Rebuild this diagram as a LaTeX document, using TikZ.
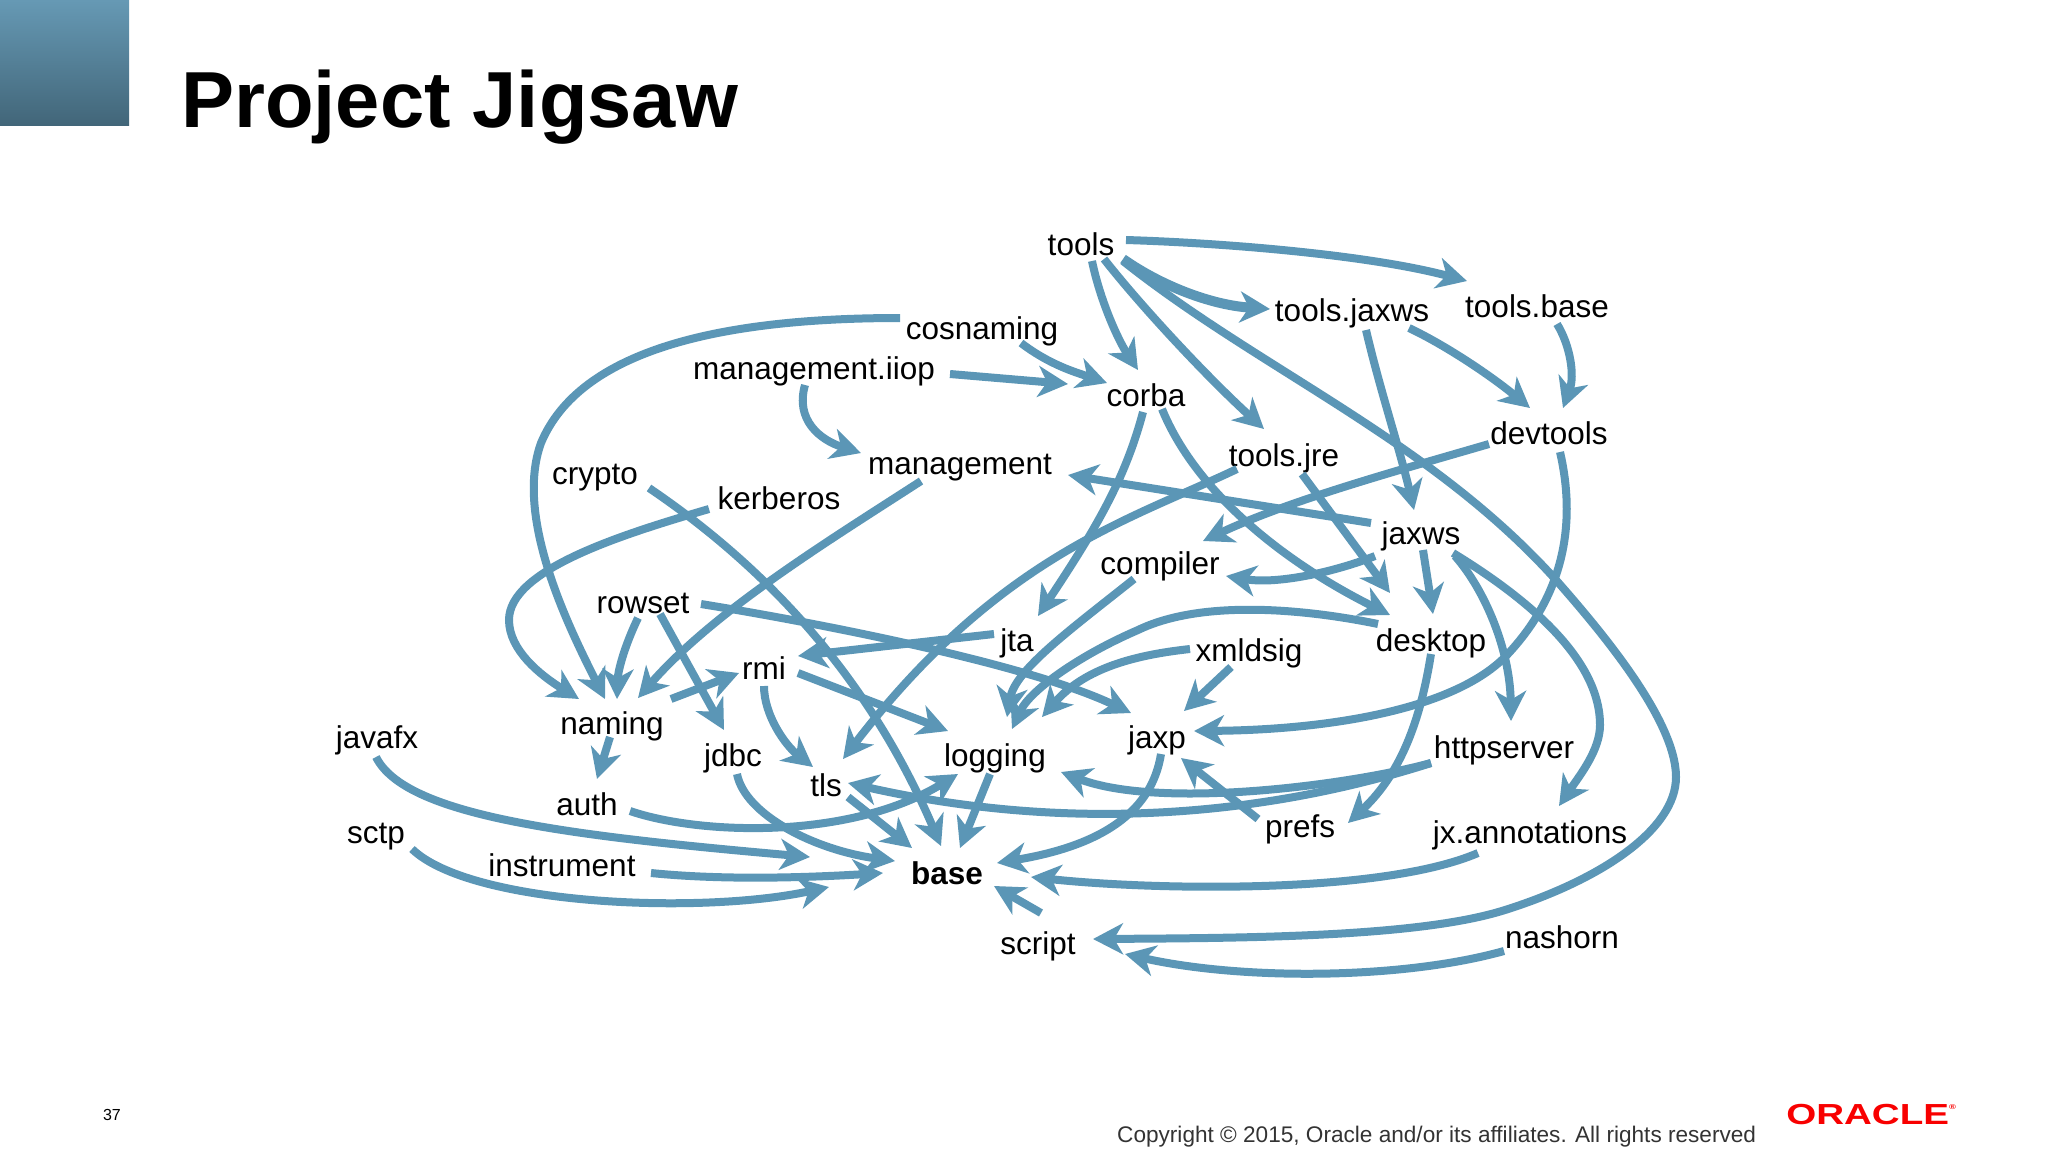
\documentclass[tikz,border=0pt]{standalone}
\usepackage{fontspec}
\setmainfont{Liberation Sans}
\usetikzlibrary{arrows.meta}
\definecolor{depblue}{HTML}{5B96B6}
\definecolor{headtop}{HTML}{6699B4}
\definecolor{headbot}{HTML}{426679}
\definecolor{oraclered}{HTML}{F80000}
\tikzset{
	>=stealth,
	module/.style={anchor=base, inner sep=0pt, xshift=1pt, yshift=-1pt, font=\fontsize{31.5}{32}\selectfont},
	rootmodule/.style={module, font=\fontsize{31.5}{32}\selectfont\bfseries},
	dep/.style={draw=depblue, line width=8pt, -{Stealth[length=30pt,width=31pt,inset=9pt]}},
	heavydep/.style={dep, line width=10pt}
}
\begin{document}
\begin{tikzpicture}[x=1pt, y=-1pt]
	\useasboundingbox (0,0) rectangle (2048,1152);

	% --- Slide furniture ---
	\shade[top color=headtop, bottom color=headbot] (0,0) rectangle (129,125);
	\node[anchor=base west, inner sep=0pt, font=\fontsize{79.5}{80}\selectfont\bfseries] (title) at (181,127) {Project Jigsaw};
	\node[anchor=base, inner sep=0pt, font=\fontsize{16}{16}\selectfont] (pagenum) at (112,1120) {37};
	\node[anchor=base west, inner sep=0pt, text=black!80, font=\fontsize{22.6}{23}\selectfont] (copyright) at (1117,1142) {Copyright © 2015, Oracle and/or its affiliates. All rights reserved};
	\node[anchor=base west, inner sep=0pt, text=oraclered, xscale=1.33, font=\fontsize{29}{29}\selectfont\bfseries] (oracle) at (1786,1124) {ORACLE\raisebox{15pt}{\fontsize{7}{7}\selectfont ®}};

	% --- Nodes ---
	\node[module] (tools) at (1080,254) {tools};
	\node[module] (toolsjaxws) at (1351,320) {tools.jaxws};
	\node[module] (toolsbase) at (1536,316) {tools.base};
	\node[module] (cosnaming) at (981,338) {cosnaming};
	\node[module] (mgmtiiop) at (813,378) {management.iiop};
	\node[module] (corba) at (1145,405) {corba};
	\node[module] (management) at (959,473) {management};
	\node[module] (toolsjre) at (1283,465) {tools.jre};
	\node[module] (devtools) at (1548,443) {devtools};
	\node[module] (crypto) at (594,483) {crypto};
	\node[module] (kerberos) at (778,508) {kerberos};
	\node[module] (jaxws) at (1420,543) {jaxws};
	\node[module] (compiler) at (1159,573) {compiler};
	\node[module] (rowset) at (642,612) {rowset};
	\node[module] (jta) at (1016,650) {jta};
	\node[module] (xmldsig) at (1248,660) {xmldsig};
	\node[module] (desktop) at (1430,650) {desktop};
	\node[module] (rmi) at (763,678) {rmi};
	\node[module] (naming) at (611,733) {naming};
	\node[module] (javafx) at (376,747) {javafx};
	\node[module] (jdbc) at (732,765) {jdbc};
	\node[module] (jaxp) at (1156,747) {jaxp};
	\node[module] (logging) at (994,765) {logging};
	\node[module] (httpserver) at (1503,757) {httpserver};
	\node[module] (tls) at (825,795) {tls};
	\node[module] (auth) at (586,814) {auth};
	\node[module] (prefs) at (1299,836) {prefs};
	\node[module] (jxannotations) at (1529,842) {jx.annotations};
	\node[module] (sctp) at (375,842) {sctp};
	\node[module] (instrument) at (561,875) {instrument};
	\node[rootmodule] (base) at (946,883) {base};
	\node[module] (script) at (1037,953) {script};
	\node[module] (nashorn) at (1561,947) {nashorn};

	% --- Connections ---
	\draw[dep] ([shift={(45,-15)}]tools.base) .. controls (1225,243) and (1370,255) .. ([shift={(-70,-36)}]toolsbase.base);
	\draw[heavydep] ([shift={(42,4)}]tools.base) .. controls (1160,285) and (1210,305) .. ([shift={(-82,-12)}]toolsjaxws.base);
	\draw[dep] ([shift={(11,6)}]tools.base) .. controls (1100,300) and (1118,340) .. ([shift={(-8,-36)}]corba.base);
	\draw[dep] ([shift={(23,4)}]tools.base) .. controls (1140,305) and (1205,375) .. ([shift={(-20,-37)}]toolsjre.base);
	\draw[dep] ([shift={(42,6)}]tools.base) .. controls (1260,370) and (1430,440) .. (1556,580)
		.. controls (1600,630) and (1676,720) .. (1676,777)
		.. controls (1676,830) and (1600,880) .. (1505,910)
		.. controls (1420,937) and (1250,938) .. ([shift={(55,-15)}]script.base);

	\draw[dep] ([shift={(39,4)}]cosnaming.base) .. controls (1050,365) and (1075,372) .. ([shift={(-39,-23)}]corba.base);
	\draw[dep] ([shift={(-82,-21)}]cosnaming.base) .. controls (720,318) and (580,350) .. (541,443)
		.. controls (515,515) and (565,620) .. ([shift={(-7,-35)}]naming.base);
	\draw[dep] ([shift={(136,-5)}]mgmtiiop.base) -- ([shift={(-78,-22)}]corba.base);
	\draw[dep] ([shift={(-9,6)}]mgmtiiop.base) .. controls (795,420) and (820,440) .. ([shift={(-99,-21)}]management.base);

	\draw[dep] ([shift={(54,4)}]crypto.base) .. controls (770,570) and (870,680) .. ([shift={(-6,-38)}]base.base);
	\draw[dep] ([shift={(-70,0)}]kerberos.base) .. controls (620,535) and (509,570) .. (509,620)
		.. controls (509,650) and (540,675) .. ([shift={(-33,-35)}]naming.base);
	\draw[dep] ([shift={(-39,7)}]management.base) .. controls (830,540) and (715,610) .. ([shift={(26,-36)}]naming.base);
	\draw[dep] ([shift={(-5,5)}]rowset.base) .. controls (625,645) and (618,670) .. ([shift={(5,-35)}]naming.base);
	\draw[dep] ([shift={(17,1)}]rowset.base) -- ([shift={(-9,-36)}]jdbc.base);
	\draw[dep] ([shift={(58,-9)}]rowset.base) .. controls (830,625) and (1030,665) .. ([shift={(-26,-35)}]jaxp.base);
	\draw[dep] ([shift={(-23,-17)}]jta.base) -- ([shift={(34,-23)}]rmi.base);
	\draw[dep] ([shift={(59,-35)}]naming.base) -- ([shift={(-25,-6)}]rmi.base);
	\draw[dep] ([shift={(34,-6)}]rmi.base) -- ([shift={(-47,-35)}]logging.base);
	\draw[dep] ([shift={(0,7)}]rmi.base) .. controls (764,715) and (785,745) .. ([shift={(-13,-29)}]tls.base);
	\draw[dep] ([shift={(-2,3)}]naming.base) -- ([shift={(10,-36)}]auth.base);

	\draw[dep] ([shift={(-3,6)}]corba.base) .. controls (1125,480) and (1095,530) .. ([shift={(21,-35)}]jta.base);
	\draw[dep] ([shift={(16,3)}]corba.base) .. controls (1195,490) and (1280,560) .. ([shift={(-41,-36)}]desktop.base);
	\draw[dep] ([shift={(14,9)}]toolsjaxws.base) .. controls (1380,390) and (1400,450) .. ([shift={(-7,-34)}]jaxws.base);
	\draw[dep] ([shift={(57,7)}]toolsjaxws.base) .. controls (1445,345) and (1490,375) .. ([shift={(-19,-36)}]devtools.base);
	\draw[dep] ([shift={(20,7)}]toolsbase.base) .. controls (1570,345) and (1575,375) .. ([shift={(14,-36)}]devtools.base);
	\draw[dep] ([shift={(-60,0)}]devtools.base) .. controls (1400,470) and (1290,500) .. ([shift={(43,-33)}]compiler.base);
	\draw[dep] ([shift={(11,8)}]devtools.base) .. controls (1578,530) and (1560,600) .. (1505,657)
		.. controls (1450,712) and (1320,730) .. ([shift={(37,-17)}]jaxp.base);
	\draw[dep] ([shift={(-47,3)}]toolsjre.base) .. controls (1130,520) and (1000,555) .. ([shift={(17,-37)}]tls.base);
	\draw[dep] ([shift={(18,8)}]toolsjre.base) -- ([shift={(-41,-58)}]desktop.base);

	\draw[dep] ([shift={(-50,-21)}]jaxws.base) -- ([shift={(108,1)}]management.base);
	\draw[dep] ([shift={(-46,12)}]jaxws.base) .. controls (1340,570) and (1280,585) .. ([shift={(66,2)}]compiler.base);
	\draw[dep] ([shift={(2,6)}]jaxws.base) -- ([shift={(2,-37)}]desktop.base);
	\draw[dep] ([shift={(34,12)}]jaxws.base) .. controls (1485,590) and (1510,650) .. ([shift={(7,-37)}]httpserver.base);
	\draw[dep] ([shift={(32,9)}]jaxws.base) .. controls (1530,600) and (1600,660) .. (1600,725)
		.. controls (1600,750) and (1580,775) .. ([shift={(29,-37)}]jxannotations.base);

	\draw[dep] ([shift={(-26,5)}]compiler.base) .. controls (1070,630) and (1015,670) .. ([shift={(12,-49)}]logging.base);
	\draw[dep] ([shift={(-53,-27)}]desktop.base) .. controls (1300,608) and (1200,600) .. (1138,630)
		.. controls (1080,655) and (1030,690) .. ([shift={(17,-37)}]logging.base);
	\draw[dep] ([shift={(-59,-12)}]xmldsig.base) .. controls (1135,655) and (1085,668) .. ([shift={(47,-49)}]logging.base);
	\draw[dep] ([shift={(-18,6)}]xmldsig.base) -- ([shift={(27,-37)}]jaxp.base);
	\draw[dep] ([shift={(0,3)}]desktop.base) .. controls (1422,710) and (1405,770) .. ([shift={(48,-14)}]prefs.base);
	\draw[dep] ([shift={(-73,5)}]httpserver.base) .. controls (1350,785) and (1160,810) .. ([shift={(66,6)}]logging.base);
	\draw[dep] ([shift={(-73,5)}]httpserver.base) .. controls (1300,805) and (1100,840) .. ([shift={(22,-13)}]tls.base);
	\draw[dep] ([shift={(-42,-18)}]prefs.base) -- ([shift={(24,10)}]jaxp.base);

	\draw[dep] ([shift={(4,6)}]jaxp.base) .. controls (1152,810) and (1105,845) .. ([shift={(50,-21)}]base.base);
	\draw[dep] ([shift={(-52,10)}]jxannotations.base) .. controls (1380,895) and (1150,890) .. ([shift={(84,-7)}]base.base);
	\draw[dep] ([shift={(-5,8)}]logging.base) -- ([shift={(13,-36)}]base.base);
	\draw[dep] ([shift={(22,1)}]tls.base) -- ([shift={(-35,-36)}]base.base);
	\draw[dep] ([shift={(4,8)}]jdbc.base) .. controls (745,815) and (815,850) .. ([shift={(-52,-23)}]base.base);
	\draw[dep] ([shift={(43,-4)}]auth.base) .. controls (700,835) and (850,840) .. ([shift={(-37,8)}]logging.base);
	\draw[dep] ([shift={(-1,9)}]javafx.base) .. controls (405,815) and (560,835) .. ([shift={(-137,-27)}]base.base);
	\draw[dep] ([shift={(89,-3)}]instrument.base) .. controls (720,880) and (800,878) .. ([shift={(-64,-11)}]base.base);
	\draw[dep] ([shift={(36,6)}]sctp.base) .. controls (470,905) and (700,915) .. ([shift={(-118,3)}]base.base);
	\draw[dep] ([shift={(3,-41)}]script.base) -- ([shift={(47,2)}]base.base);
	\draw[dep] ([shift={(-58,3)}]nashorn.base) .. controls (1400,980) and (1240,980) .. ([shift={(87,0)}]script.base);

\end{tikzpicture}
\end{document}
